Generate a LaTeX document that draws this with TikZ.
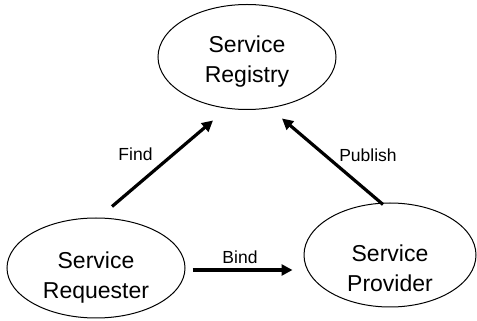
\documentclass[tikz,border=0pt]{standalone}
\usepackage{fontspec}
\setmainfont{Liberation Sans}
\usetikzlibrary{shapes.geometric,arrows.meta}
\begin{document}
\begin{tikzpicture}[x=1pt,y=1pt,
  role/.style={draw, ellipse, line width=1pt, inner sep=0pt},
  roletext/.style={align=center, font=\fontsize{23}{30}\selectfont},
  link/.style={line width=3.2pt, -{Triangle[length=11pt,width=11pt]}},
  linklabel/.style={font=\fontsize{17.5}{20}\selectfont}]
\useasboundingbox (0,0) rectangle (477,321);

% the three roles
\node[role, minimum width=178pt, minimum height=105pt] (reg) at (247,264) {};
\node[role, minimum width=178pt, minimum height=100pt] (req) at (96,53) {};
\node[role, minimum width=172pt, minimum height=104pt] (prov) at (390,66) {};

\node[roletext] (regt) at (247,259) {Service\\Registry};
\node[roletext] (reqt) at (96,43) {Service\\Requester};
\node[roletext] (provt) at (390,53) {Service\\Provider};

% interactions
\draw[link] ([xshift=16pt,yshift=11pt]req.north) -- ([xshift=-34pt,yshift=-10.5pt]reg.south)
  node[linklabel, midway, xshift=-27pt, yshift=9pt] (find) {Find};
\draw[link] ([xshift=-7pt,yshift=-2pt]prov.north) -- ([xshift=35pt,yshift=-8.5pt]reg.south)
  node[linklabel, midway, xshift=35.5pt, yshift=6.5pt] (publish) {Publish};
\draw[link] ([xshift=7pt,yshift=-2pt]req.east) -- ([xshift=-11pt,yshift=-15pt]prov.west)
  node[linklabel, midway, xshift=-2.5pt, yshift=13pt] (bind) {Bind};
\end{tikzpicture}
\end{document}
